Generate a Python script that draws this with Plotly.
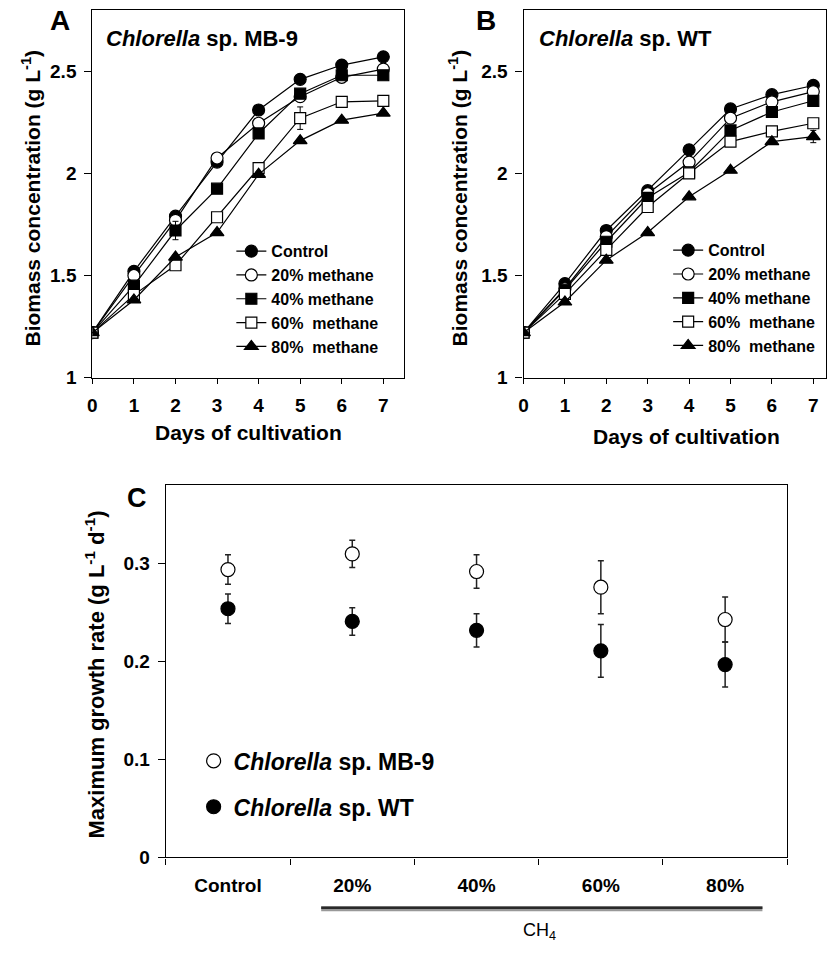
import plotly.graph_objects as go

# ---------------- data ----------------
days = [0, 1, 2, 3, 4, 5, 6, 7]
series_names = ["Control", "20% methane", "40% methane", "60%  methane", "80%  methane"]

A_control = [1.22, 1.52, 1.79, 2.055, 2.31, 2.46, 2.53, 2.57]
A_m20 = [1.22, 1.50, 1.77, 2.075, 2.245, 2.375, 2.47, 2.51]
A_m40 = [1.22, 1.45, 1.72, 1.925, 2.195, 2.39, 2.48, 2.48]
A_m60 = [1.22, 1.405, 1.55, 1.785, 2.025, 2.27, 2.35, 2.355]
A_m80 = [1.22, 1.38, 1.59, 1.71, 1.995, 2.16, 2.26, 2.295]
A_err = [
    [0, 0.01, 0.01, 0.01, 0.01, 0.01, 0.01, 0.01],
    [0, 0.01, 0.01, 0.01, 0.01, 0.02, 0.01, 0.01],
    [0, 0.01, 0.045, 0.01, 0.01, 0.01, 0.01, 0.01],
    [0, 0.01, 0.01, 0.01, 0.01, 0.055, 0.01, 0.01],
    [0, 0.01, 0.01, 0.01, 0.01, 0.01, 0.01, 0.01],
]

B_control = [1.22, 1.46, 1.72, 1.915, 2.115, 2.315, 2.385, 2.43]
B_m20 = [1.22, 1.435, 1.69, 1.90, 2.055, 2.27, 2.35, 2.40]
B_m40 = [1.22, 1.43, 1.665, 1.88, 2.005, 2.21, 2.30, 2.355]
B_m60 = [1.22, 1.41, 1.625, 1.835, 2.0, 2.155, 2.205, 2.245]
B_m80 = [1.22, 1.37, 1.575, 1.71, 1.885, 2.015, 2.155, 2.18]
B_err = [
    [0, 0.01, 0.01, 0.01, 0.01, 0.01, 0.01, 0.01],
    [0, 0.01, 0.01, 0.01, 0.01, 0.01, 0.01, 0.01],
    [0, 0.01, 0.01, 0.01, 0.01, 0.01, 0.01, 0.01],
    [0, 0.01, 0.01, 0.01, 0.01, 0.01, 0.01, 0.01],
    [0, 0.01, 0.01, 0.01, 0.01, 0.01, 0.01, 0.03],
]

C_categories = ["Control", "20%", "40%", "60%", "80%"]
C_mb9 = [0.294, 0.310, 0.292, 0.276, 0.243]
C_mb9_err = [0.015, 0.014, 0.017, 0.027, 0.023]
C_wt = [0.254, 0.241, 0.232, 0.211, 0.197]
C_wt_err = [0.015, 0.014, 0.017, 0.027, 0.023]

x_ticks_days = [0, 1, 2, 3, 4, 5, 6, 7]
y_ticks_biomass = [1, 1.5, 2, 2.5]
y_ticks_rate = [0, 0.1, 0.2, 0.3]

# ---------------- styles ----------------
FONT = "Liberation Sans, Arial, Helvetica, sans-serif"
styles = [
    dict(symbol="circle", color="black", size=12),
    dict(symbol="circle", color="white", size=12),
    dict(symbol="square", color="black", size=11),
    dict(symbol="square", color="white", size=11),
    dict(symbol="triangle-up", color="black", size=12),
]

fig = go.Figure()

def add_panel(values, errs, xa, ya, legend):
    for name, vals, err, st in zip(series_names, values, errs, styles):
        fig.add_trace(go.Scatter(
            x=days, y=vals, name=name, mode="lines+markers",
            xaxis=xa, yaxis=ya, legend=legend,
            line=dict(color="black", width=1.2),
            marker=dict(symbol=st["symbol"], size=st["size"], color=st["color"],
                        line=dict(color="black", width=1.2)),
            error_y=dict(type="data", array=err, visible=True, color="black",
                         thickness=1, width=3),
        ))

add_panel([A_control, A_m20, A_m40, A_m60, A_m80], A_err, "x", "y", "legend")
add_panel([B_control, B_m20, B_m40, B_m60, B_m80], B_err, "x2", "y2", "legend2")

x_c = list(range(len(C_categories)))
fig.add_trace(go.Scatter(
    x=x_c, y=C_mb9, name="<i>Chlorella</i> sp. MB-9", mode="markers",
    xaxis="x3", yaxis="y3", legend="legend3", legendgroup="mb9",
    marker=dict(symbol="circle", size=14, color="white", line=dict(color="black", width=1.2)),
    error_y=dict(type="data", array=C_mb9_err, visible=True, color="#222", thickness=1.5, width=3),
))
fig.add_trace(go.Scatter(
    x=x_c, y=C_wt, name="<i>Chlorella</i> sp. WT", mode="markers",
    xaxis="x3", yaxis="y3", legend="legend3", legendgroup="wt",
    marker=dict(symbol="circle", size=14, color="black", line=dict(color="black", width=1.2)),
    error_y=dict(type="data", array=C_wt_err, visible=True, color="#222", thickness=1.5, width=3),
))

W, H = 827, 954
def px(x):
    return x / W
def py(y):
    return 1 - y / H

tickfont = dict(family=FONT, size=19, color="black", weight="bold")
axis_common = dict(showgrid=False, zeroline=False, showline=True, linecolor="black",
                   linewidth=1.2, mirror=True, ticks="outside", tickcolor="black",
                   tickwidth=1.2, tickfont=tickfont)

fig.update_layout(
    width=W, height=H, margin=dict(l=0, r=0, t=0, b=0),
    paper_bgcolor="white", plot_bgcolor="white",
    font=dict(family=FONT, color="black"),
    xaxis=dict(domain=[px(88), px(402)], range=[0, 7.5], anchor="y",
               tickvals=x_ticks_days, ticklen=5, ticklabelstandoff=6, **axis_common),
    yaxis=dict(domain=[py(382), py(10)], range=[1, 2.8], anchor="x",
               tickvals=y_ticks_biomass, ticklen=7, ticklabelstandoff=4, **axis_common),
    xaxis2=dict(domain=[px(522.3), px(826.5)], range=[0, 7.295], anchor="y2",
                tickvals=x_ticks_days, ticklen=5, ticklabelstandoff=6, **axis_common),
    yaxis2=dict(domain=[py(382), py(10)], range=[1, 2.8], anchor="x2",
                tickvals=y_ticks_biomass, ticklen=7, ticklabelstandoff=4, **axis_common),
    xaxis3=dict(domain=[px(162), px(788)], range=[-0.5, 4.5], anchor="y3",
                tickvals=x_c, ticktext=C_categories, showgrid=False, zeroline=False,
                showline=True, linecolor="black", linewidth=1.2, mirror=True, ticks="",
                tickfont=tickfont, ticklabelstandoff=11,
                minor=dict(tickmode="linear", tick0=-0.5, dtick=1, ticks="outside",
                           ticklen=6, tickcolor="black", tickwidth=1.2)),
    yaxis3=dict(domain=[py(867.5), py(491)], range=[0, 0.38], anchor="x3",
                tickvals=y_ticks_rate, ticklen=7, ticklabelstandoff=4, **axis_common),
    legend=dict(x=px(228), y=py(237), xanchor="left", yanchor="top",
                bgcolor="rgba(0,0,0,0)", borderwidth=0,
                font=dict(family=FONT, size=16, color="black", weight="bold"),
                tracegroupgap=0, itemwidth=30),
    legend2=dict(x=px(668), y=py(236), xanchor="left", yanchor="top",
                 bgcolor="rgba(0,0,0,0)", borderwidth=0,
                 font=dict(family=FONT, size=16, color="black", weight="bold"),
                 tracegroupgap=0, itemwidth=30),
    legend3=dict(x=px(190), y=py(748), xanchor="left", yanchor="top",
                 bgcolor="rgba(0,0,0,0)", borderwidth=0,
                 font=dict(family=FONT, size=23, color="black", weight="bold"),
                 tracegroupgap=13, itemwidth=30),
    showlegend=True,
)

ann = []
def text(x, y, t, size, angle=0, xanchor="center", yanchor="middle", bold=True):
    ann.append(dict(x=px(x), y=py(y), xref="paper", yref="paper", text=(f"<b>{t}</b>" if bold else t),
                    showarrow=False, textangle=angle, xanchor=xanchor, yanchor=yanchor,
                    font=dict(family=FONT, size=size, color="black")))

# panel letters
text(55, 21, "A", 28)
text(485, 21, "B", 28)
text(133, 504, "C", 27)
# panel titles
text(100, 39, "<i>Chlorella</i> sp. MB-9", 22, xanchor="left")
text(536, 39, "<i>Chlorella</i> sp. WT", 22, xanchor="left")
# axis titles
text(26, 200, "Biomass concentration (g L<sup>-1</sup>)", 21, angle=-90)
text(456, 200, "Biomass concentration (g L<sup>-1</sup>)", 21, angle=-90)
text(91, 682, "Maximum growth rate (g L<sup>-1</sup> d<sup>-1</sup>)", 22, angle=-90)
text(245, 438, "Days of cultivation", 21)
text(686, 442, "Days of cultivation", 21)

# CH4 group label
ann.append(dict(x=2.51, y=py(942), xref="x3", yref="paper", text="CH<sub>4</sub>",
                showarrow=False, xanchor="center", yanchor="middle",
                font=dict(family=FONT, size=18, color="black")))
fig.update_layout(annotations=ann)

fig.add_shape(type="line", xref="x3", yref="paper", x0=0.75, x1=4.3,
              y0=py(919.3), y1=py(919.3), line=dict(color="#999", width=5))
fig.add_shape(type="line", xref="x3", yref="paper", x0=0.75, x1=4.3,
              y0=py(918.3), y1=py(918.3), line=dict(color="#2a2a2a", width=2.5))

fig.write_html("out.html", config={"displayModeBar": False},
               post_script="document.body.style.margin='0';document.body.style.overflow='hidden';")
